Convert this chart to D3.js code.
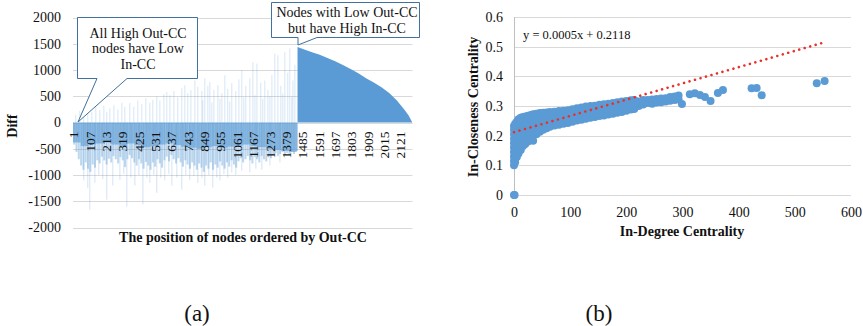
<!DOCTYPE html>
<html>
<head>
<meta charset="utf-8">
<script src="https://cdn.jsdelivr.net/npm/d3@7"></script>
<style>
    body { margin: 0; background: #fff; }
    svg { display: block; }
    svg text { font-family: "Liberation Serif", "Times New Roman", serif !important; }
</style>
</head>
<body>
<svg id="chart" width="863" height="326"></svg>
<script>
// ---------- (a) Diff by node position ----------
const node_count = 2200;
const diff_ticks = [2000, 1500, 1000, 500, 0, -500, -1000, -1500, -2000];
const position_labels = [1, 107, 213, 319, 425, 531, 637, 743, 849, 955, 1061, 1167, 1273, 1379, 1485, 1591, 1697, 1803, 1909, 2015, 2121];

// typical negative depth, one value per 15 nodes (nodes 1..1455)
const mid_group = 15;
const left_mid = [-420, -560, -700, -820, -900, -760, -880, -940, -800, -860, -720, -780, -650, -720, -800, -690,
    -760, -640, -700, -780, -660, -720, -850, -700, -620, -680, -760, -820, -700, -780, -880, -750,
    -820, -900, -760, -840, -700, -780, -860, -720, -650, -740, -620, -700, -780, -680, -760, -840,
    -720, -800, -880, -760, -820, -900, -780, -860, -940, -820, -880, -760, -900, -800, -860, -740,
    -820, -880, -760, -840, -720, -800, -860, -740, -680, -760, -700, -640, -720, -780, -660, -700,
    -760, -640, -700, -740, -620, -680, -620, -580, -640, -600, -560, -620, -580, -600, -560, -600, -540];

// dense dark core, one value per 50 nodes
const core_group = 50;
const left_core = [-380, -450, -420, -400, -380, -420, -450, -400, -430, -470, -450, -420, -400, -430, -460,
    -480, -500, -470, -450, -480, -460, -440, -420, -450, -470, -500, -520, -540, -560, -540];

// [node, diff] long negative outliers
const neg_spikes = [[71, -1100], [97, -1250], [110, -1660], [143, -1150], [168, -1000], [194, -1080], [220, -1470],
    [259, -1200], [305, -1100], [330, -980], [350, -1600], [376, -1050], [402, -1200], [428, -1000], [454, -1560],
    [480, -1050], [499, -1150], [525, -1000], [544, -1340], [570, -1050], [596, -1100], [622, -980], [642, -1200],
    [674, -1050], [706, -1280], [732, -1000], [758, -1100], [784, -1020], [810, -1150], [836, -1050], [855, -1200],
    [881, -1000], [907, -1240], [933, -1050], [953, -1100], [979, -980], [1004, -1050], [1030, -950], [1056, -1000],
    [1095, -920], [1147, -950], [1186, -880], [1225, -900], [1277, -820], [1342, -760]];

// [node, diff] positive outliers
const pos_spikes = [[19, 150], [45, 220], [71, 180], [97, 260], [123, 200], [149, 300], [175, 240], [201, 320],
    [220, 200], [240, 270], [266, 330], [292, 250], [318, 380], [337, 300], [369, 370], [395, 300], [421, 420],
    [447, 350], [473, 460], [499, 380], [518, 430], [544, 500], [564, 420], [590, 540], [609, 580], [629, 520],
    [655, 600], [680, 480], [706, 650], [726, 710], [745, 560], [765, 620], [791, 800], [810, 680], [836, 600],
    [842, 420], [855, 840], [875, 700], [888, 770], [901, 380], [914, 620], [940, 710], [953, 450], [966, 560],
    [985, 900], [1004, 640], [1017, 400], [1030, 750], [1056, 600], [1076, 820], [1095, 995], [1108, 480],
    [1121, 700], [1147, 840], [1167, 1150], [1180, 520], [1193, 1120], [1218, 760], [1231, 450], [1244, 800],
    [1264, 620], [1277, 500], [1290, 900], [1309, 1310], [1329, 1280], [1348, 700], [1361, 550], [1374, 1340],
    [1393, 950], [1406, 1410], [1419, 480], [1426, 800], [1439, 1100]];

// positive sorted tail
const tail_nodes = [1456, 1500, 1550, 1600, 1650, 1700, 1750, 1800, 1850, 1900, 1950, 2000, 2050, 2100, 2150, 2175, 2200];
const tail_diff = [1440, 1390, 1340, 1290, 1230, 1165, 1095, 1020, 940, 845, 760, 670, 560, 420, 240, 140, 0];

// ---------- (b) In-degree vs in-closeness ----------
const degree_ticks = [0, 100, 200, 300, 400, 500, 600];
const closeness_ticks = [0, 0.1, 0.2, 0.3, 0.4, 0.5, 0.6];
const trend_slope = 0.000548;
const trend_intercept = 0.2118;
const trend_label = 'y = 0.0005x + 0.2118';

const points = [
    [0, 0], [1, 0],
    [0, 0.10], [0, 0.115], [0, 0.13], [0, 0.145], [0, 0.16], [0, 0.175], [0, 0.19], [0, 0.205], [0, 0.22], [0, 0.233],
    [2, 0.11], [2, 0.125], [2, 0.14], [2, 0.155], [2, 0.17], [2, 0.185], [2, 0.2], [2, 0.215], [2, 0.23], [2, 0.24],
    [5, 0.128], [5, 0.143], [5, 0.158], [5, 0.173], [5, 0.188], [5, 0.203], [5, 0.218], [5, 0.233], [5, 0.247],
    [8, 0.14], [8, 0.155], [8, 0.17], [8, 0.185], [8, 0.2], [8, 0.215], [8, 0.23], [8, 0.245], [8, 0.255],
    [12, 0.152], [12, 0.167], [12, 0.182], [12, 0.197], [12, 0.212], [12, 0.227], [12, 0.242], [12, 0.26],
    [16, 0.165], [16, 0.18], [16, 0.195], [16, 0.21], [16, 0.225], [16, 0.24], [16, 0.255], [16, 0.263],
    [20, 0.172], [20, 0.187], [20, 0.202], [20, 0.217], [20, 0.232], [20, 0.247], [20, 0.265],
    [25, 0.18], [25, 0.195], [25, 0.21], [25, 0.225], [25, 0.24], [25, 0.255], [25, 0.267],
    [30, 0.188], [30, 0.203], [30, 0.218], [30, 0.233], [30, 0.248], [30, 0.262], [30, 0.27],
    [34, 0.183], [34, 0.2], [34, 0.215], [34, 0.23], [34, 0.245], [34, 0.26], [34, 0.272],
    [40, 0.205], [40, 0.22], [40, 0.235], [40, 0.25], [40, 0.263], [40, 0.274],
    [46, 0.213], [46, 0.228], [46, 0.243], [46, 0.258], [46, 0.276],
    [52, 0.22], [52, 0.235], [52, 0.25], [52, 0.265], [52, 0.277],
    [58, 0.225], [58, 0.24], [58, 0.255], [58, 0.27], [58, 0.278],
    [64, 0.23], [64, 0.245], [64, 0.26], [64, 0.28],
    [72, 0.234], [72, 0.249], [72, 0.264], [72, 0.281],
    [80, 0.237], [80, 0.252], [80, 0.267], [80, 0.283],
    [88, 0.24], [88, 0.255], [88, 0.27], [88, 0.284],
    [96, 0.243], [96, 0.258], [96, 0.273], [96, 0.286],
    [104, 0.247], [104, 0.262], [104, 0.277], [104, 0.289],
    [112, 0.251], [112, 0.266], [112, 0.281], [112, 0.292],
    [120, 0.254], [120, 0.27], [120, 0.285], [120, 0.295],
    [128, 0.257], [128, 0.272], [128, 0.287], [128, 0.298],
    [136, 0.26], [136, 0.275], [136, 0.29], [136, 0.3],
    [144, 0.263], [144, 0.278], [144, 0.292], [144, 0.301],
    [152, 0.266], [152, 0.28], [152, 0.294], [152, 0.304],
    [160, 0.268], [160, 0.283], [160, 0.296], [160, 0.306],
    [168, 0.271], [168, 0.286], [168, 0.299], [168, 0.308],
    [176, 0.274], [176, 0.289], [176, 0.31],
    [184, 0.277], [184, 0.292], [184, 0.313],
    [192, 0.28], [192, 0.296], [192, 0.315],
    [200, 0.284], [200, 0.3], [200, 0.317],
    [208, 0.288], [208, 0.303], [208, 0.319],
    [214, 0.29], [214, 0.305], [214, 0.32],
    [222, 0.3], [222, 0.315], [230, 0.305], [230, 0.32], [238, 0.31], [238, 0.32], [246, 0.308], [246, 0.322],
    [254, 0.312], [254, 0.324], [262, 0.313], [262, 0.325], [270, 0.315], [270, 0.326], [278, 0.318], [278, 0.33],
    [286, 0.32], [286, 0.332], [293, 0.322], [293, 0.335], [299, 0.307],
    [313, 0.34], [322, 0.343], [331, 0.337], [340, 0.33], [350, 0.317], [363, 0.344], [372, 0.354],
    [423, 0.36], [432, 0.361], [441, 0.336], [539, 0.377], [553, 0.384]];

const bar_color = '#5b9bd5';
const grid_color = '#d9d9d9';
const text_color = '#111';
const callout_color = '#41719c';

let svg = d3.select('#chart');

function style_axis(axis_g, size) {
    // d3 puts sans-serif / 10px on the group, drop that so the page font is used
    axis_g.attr('font-family', null).attr('font-size', null);
    axis_g.select('.domain').remove();
    axis_g.selectAll('text').attr('font-size', size).attr('fill', text_color);
}

// ================= chart (a) =================
let x_left = d3.scaleBand().domain(d3.range(1, node_count + 1)).range([73, 412.5]).padding(0);
let y_left = d3.scaleLinear().domain([-2000, 2000]).range([227.5, 17.5]);
let bw = x_left.bandwidth();

let chart_a = svg.append('g');

chart_a.append('g').selectAll('line').data(diff_ticks).join('line')
    .attr('x1', 73).attr('x2', 412.5)
    .attr('y1', d => Math.round(y_left(d)) + 0.5).attr('y2', d => Math.round(y_left(d)) + 0.5)
    .attr('stroke', grid_color).attr('stroke-width', 1);

// dense core
chart_a.append('g').selectAll('rect').data(left_core).join('rect')
    .attr('x', (d, i) => x_left(i * core_group + 1))
    .attr('width', (d, i) => bw * Math.min(core_group, 1455 - i * core_group))
    .attr('y', y_left(0))
    .attr('height', d => y_left(d) - y_left(0))
    .attr('fill', bar_color).attr('fill-opacity', 0.62);

// typical depth
chart_a.append('g').selectAll('rect').data(left_mid).join('rect')
    .attr('x', (d, i) => x_left(i * mid_group + 1) + 0.15)
    .attr('width', bw * mid_group - 0.3)
    .attr('y', y_left(0))
    .attr('height', d => y_left(d) - y_left(0))
    .attr('fill', bar_color).attr('fill-opacity', 0.4);

chart_a.append('g').selectAll('line').data(neg_spikes).join('line')
    .attr('x1', d => x_left(d[0])).attr('x2', d => x_left(d[0]))
    .attr('y1', y_left(0)).attr('y2', d => y_left(d[1]))
    .attr('stroke', bar_color).attr('stroke-opacity', 0.3).attr('stroke-width', 0.9);

chart_a.append('g').selectAll('line').data(pos_spikes).join('line')
    .attr('x1', d => x_left(d[0])).attr('x2', d => x_left(d[0]))
    .attr('y1', y_left(0)).attr('y2', d => y_left(d[1]))
    .attr('stroke', bar_color).attr('stroke-opacity', 0.28).attr('stroke-width', 0.9);

let tail_area = d3.area()
    .x(d => x_left(d[0]))
    .y0(y_left(0))
    .y1(d => y_left(d[1]));

chart_a.append('path')
    .datum(tail_nodes.map((n, i) => [n, tail_diff[i]]))
    .attr('d', tail_area)
    .attr('fill', bar_color);

// y axis
let y_axis_a = chart_a.append('g').attr('transform', 'translate(61,0)')
    .call(d3.axisLeft(y_left).tickValues(diff_ticks).tickFormat(d => String(d)).tickSize(0).tickPadding(0));
style_axis(y_axis_a, '14px');

// x axis (rotated category labels)
let x_axis_a = chart_a.append('g').attr('transform', 'translate(0,' + y_left(0) + ')')
    .call(d3.axisBottom(x_left).tickValues(position_labels).tickSize(0));
style_axis(x_axis_a, '13.5px');
x_axis_a.selectAll('text')
    .attr('transform', 'rotate(-90)')
    .attr('x', -9).attr('y', 0).attr('dy', '0.35em')
    .style('text-anchor', 'end');

chart_a.append('text')
    .attr('transform', 'translate(17,126) rotate(-90)')
    .attr('text-anchor', 'middle').attr('font-weight', 'bold').attr('font-size', '14px')
    .attr('fill', text_color).text('Diff');

chart_a.append('text')
    .attr('x', 243).attr('y', 242)
    .attr('text-anchor', 'middle').attr('font-weight', 'bold').attr('font-size', '14px')
    .attr('fill', text_color).text('The position of nodes ordered by Out-CC');

// callouts
chart_a.append('path')
    .attr('d', 'M77.5,17.5 H197.5 V78.5 H127 L78,122 L97,78.5 H77.5 Z')
    .attr('fill', '#fff').attr('stroke', callout_color).attr('stroke-width', 1);
['All High Out-CC', 'nodes have Low', 'In-CC'].forEach(function (t, i) {
    chart_a.append('text').attr('x', 138).attr('y', 37.5 + i * 15.5)
        .attr('text-anchor', 'middle').attr('font-size', '14px').attr('fill', text_color).text(t);
});

chart_a.append('path')
    .attr('d', 'M271.5,2.5 H419.5 V37.5 H317 L298,45 L298,37.5 H271.5 Z')
    .attr('fill', '#fff').attr('stroke', callout_color).attr('stroke-width', 1);
['Nodes with Low Out-CC', 'but have High In-CC'].forEach(function (t, i) {
    chart_a.append('text').attr('x', 347).attr('y', 17 + i * 15.5)
        .attr('text-anchor', 'middle').attr('font-size', '14px').attr('fill', text_color).text(t);
});

chart_a.append('text').attr('x', 197).attr('y', 321)
    .attr('text-anchor', 'middle').attr('font-size', '23px').attr('fill', text_color).text('(a)');

// ================= chart (b) =================
let x_right = d3.scaleLinear().domain([0, 600]).range([514, 851]);
let y_right = d3.scaleLinear().domain([0, 0.6]).range([195, 17]);

let chart_b = svg.append('g');

chart_b.append('g').selectAll('line').data(closeness_ticks).join('line')
    .attr('x1', 514).attr('x2', 851)
    .attr('y1', d => Math.round(y_right(d)) + 0.5).attr('y2', d => Math.round(y_right(d)) + 0.5)
    .attr('stroke', grid_color).attr('stroke-width', 1);

chart_b.append('line')
    .attr('x1', 514.5).attr('x2', 514.5).attr('y1', y_right(0.6)).attr('y2', y_right(0))
    .attr('stroke', '#bfbfbf').attr('stroke-width', 1);

chart_b.append('g').selectAll('circle').data(points).join('circle')
    .attr('cx', d => x_right(d[0]))
    .attr('cy', d => y_right(d[1]))
    .attr('r', 4)
    .attr('fill', bar_color);

let max_degree = d3.max(points, d => d[0]);
let trend_line = d3.line().x(d => x_right(d)).y(d => y_right(trend_slope * d + trend_intercept));
chart_b.append('path')
    .datum([0, max_degree])
    .attr('d', trend_line)
    .attr('fill', 'none').attr('stroke', '#e8312a').attr('stroke-width', 2.6)
    .attr('stroke-linecap', 'round').attr('stroke-dasharray', '0.01 5.7');

chart_b.append('text').attr('x', 523).attr('y', 38.5)
    .attr('font-size', '12.5px').attr('fill', text_color).text(trend_label);

let y_axis_b = chart_b.append('g').attr('transform', 'translate(503,0)')
    .call(d3.axisLeft(y_right).tickValues(closeness_ticks).tickFormat(d => String(d)).tickSize(0).tickPadding(0));
style_axis(y_axis_b, '14px');

let x_axis_b = chart_b.append('g').attr('transform', 'translate(0,204)')
    .call(d3.axisBottom(x_right).tickValues(degree_ticks).tickSize(0));
style_axis(x_axis_b, '14px');

chart_b.append('text')
    .attr('transform', 'translate(478,107) rotate(-90)')
    .attr('text-anchor', 'middle').attr('font-weight', 'bold').attr('font-size', '14px')
    .attr('fill', text_color).text('In-Closeness Centrality');

chart_b.append('text')
    .attr('x', 682).attr('y', 236)
    .attr('text-anchor', 'middle').attr('font-weight', 'bold').attr('font-size', '14px')
    .attr('fill', text_color).text('In-Degree Centrality');

chart_b.append('text').attr('x', 599).attr('y', 321)
    .attr('text-anchor', 'middle').attr('font-size', '23px').attr('fill', text_color).text('(b)');
</script>
</body>
</html>
